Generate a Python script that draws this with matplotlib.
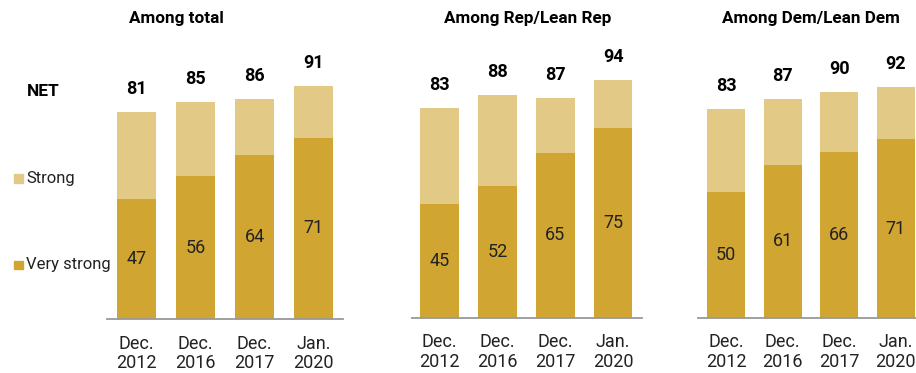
import matplotlib
matplotlib.use("Agg")
import matplotlib.pyplot as plt
from matplotlib.patches import Rectangle

plt.rcParams['font.family'] = ['Roboto', 'DejaVu Sans']

# data
periods = ["Dec.\n2012", "Dec.\n2016", "Dec.\n2017", "Jan.\n2020"]
groups = ["Among total", "Among Rep/Lean Rep", "Among Dem/Lean Dem"]
very_strong = [
    [47, 56, 64, 71],
    [45, 52, 65, 75],
    [50, 61, 66, 71],
]
net = [
    [81, 85, 86, 91],
    [83, 88, 87, 94],
    [83, 87, 90, 92],
]

dark = "#D1A531"
light = "#E2C985"
W, H = 916, 373

fig = plt.figure(figsize=(W / 100, H / 100), dpi=100)

# axes boxes in pixels: left, baseline y, width, px per unit
boxes = [(107, 319.3, 236, 2.56), (412, 317.7, 230, 2.53), (698, 317.7, 218, 2.51)]
xlims = [(-0.5, 3.5), (-0.48, 3.5), (-0.5, 3.36)]
title_x = [176.5, 527.5, 810.5]

for i, (left, base, width, ppu) in enumerate(boxes):
    ax = fig.add_axes([left / W, (H - base) / H, width / W, 100 * ppu / H])
    x = range(len(periods))
    strong = [n - v for n, v in zip(net[i], very_strong[i])]
    ax.bar(x, very_strong[i], width=0.67, color=dark)
    ax.bar(x, strong, bottom=very_strong[i], width=0.67, color=light)
    for xi, v, n in zip(x, very_strong[i], net[i]):
        ax.text(xi, v / 2, str(v), ha='center', va='center', fontsize=13, color='#222222')
        ax.annotate(str(n), (xi, n), xytext=(0, 10), textcoords='offset points',
                    ha='center', va='bottom', fontsize=13, fontweight='bold')
    ax.set_xlim(*xlims[i])
    ax.set_ylim(0, 100)
    ax.set_xticks(list(x))
    ax.set_xticklabels(periods, fontsize=13, linespacing=1.12, color='#222222')
    ax.tick_params(axis='x', length=0, pad=11)
    ax.set_yticks([])
    for s in ['top', 'right', 'left']:
        ax.spines[s].set_visible(False)
    ax.spines['bottom'].set_color('#999999')
    ax.spines['bottom'].set_linewidth(1.3)
    fig.text(title_x[i] / W, 1 - 18 / H, groups[i], ha='center', va='center',
             fontsize=12.3, fontweight='bold')

# legend labels at left
fig.text(27 / W, 1 - 92 / H, "NET", ha='left', va='center', fontsize=12.5, fontweight='bold')
for label, color, yc in [("Strong", light, 178.5), ("Very strong", dark, 265)]:
    fig.patches.append(Rectangle((14 / W, 1 - (yc + 4.3) / H), 8.6 / W, 8.6 / H,
                                 transform=fig.transFigure, color=color))
    fig.text(26 / W, 1 - yc / H, label, ha='left', va='center', fontsize=12, color='#222222')

fig.savefig("out.png", dpi=100)
